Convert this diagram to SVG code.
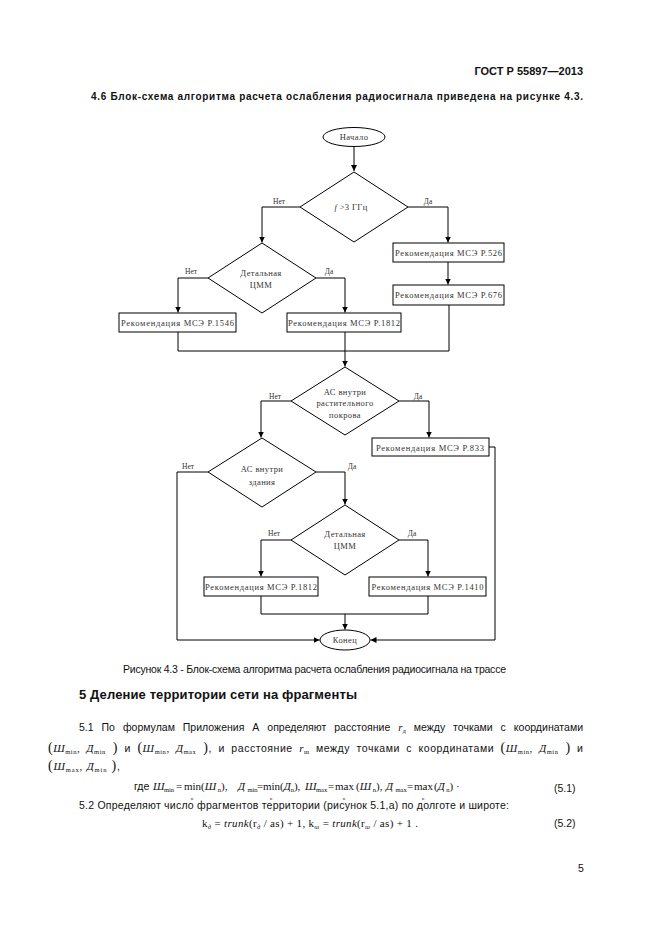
<svg xmlns="http://www.w3.org/2000/svg" width="661" height="936" viewBox="0 0 661 936">
<style>
.ln{fill:none;stroke:#000;stroke-width:1}
.nd{fill:#fff;stroke:#000;stroke-width:1}
.ft{font-family:"Liberation Serif","DejaVu Serif",serif;font-size:8.5px;fill:#333;text-anchor:middle}
.dt{font-family:"Liberation Serif","DejaVu Serif",serif;font-size:8.5px;fill:#333;text-anchor:middle;letter-spacing:0.4px}
.lb{font-family:"Liberation Serif","DejaVu Serif",serif;font-size:7.5px;fill:#333;text-anchor:middle}
.b{font-family:"Liberation Sans",Arial,sans-serif;font-size:10.5px;fill:#111}
.bb{font-family:"Liberation Sans",Arial,sans-serif;font-weight:bold;fill:#111}
.m{font-family:"Liberation Serif","DejaVu Serif",serif;font-size:11px;fill:#111}
.i{font-style:italic}
.sb{font-size:6.5px}
.un{font-family:"Liberation Serif","DejaVu Serif",serif;font-size:5px;fill:#111;text-anchor:middle}
.pr{font-size:14px}
</style>
<defs>
<marker id="ar" viewBox="0 0 8 8" refX="8" refY="4" markerWidth="6" markerHeight="6" markerUnits="userSpaceOnUse" orient="auto">
<path d="M0,0 L8,4 L0,8 z" fill="#000"/>
</marker>
</defs>
<rect width="661" height="936" fill="#fff"/>

<text class="bb" x="583" y="75" font-size="11" text-anchor="end">ГОСТ Р 55897—2013</text>
<text class="bb" x="91" y="100" font-size="10" textLength="492" lengthAdjust="spacing">4.6 Блок-схема алгоритма расчета ослабления радиосигнала приведена на рисунке 4.3.</text>

<g id="connectors">
<path class="ln" d="M354,146.5 V171" marker-end="url(#ar)"/>
<path class="ln" d="M300,207 H262 V242.5" marker-end="url(#ar)"/>
<path class="ln" d="M408,207 H448 V242.5" marker-end="url(#ar)"/>
<path class="ln" d="M448,262 V284.5" marker-end="url(#ar)"/>
<path class="ln" d="M208,278 H178 V312.5" marker-end="url(#ar)"/>
<path class="ln" d="M316,278 H345 V312.5" marker-end="url(#ar)"/>
<path class="ln" d="M178,332 V351 H449 V305"/>
<path class="ln" d="M345,332 V366.5" marker-end="url(#ar)"/>
<path class="ln" d="M291,401 H261 V437.5" marker-end="url(#ar)"/>
<path class="ln" d="M399,401 H429 V437.5" marker-end="url(#ar)"/>
<path class="ln" d="M489,447 H495 V640 H370.5" marker-end="url(#ar)"/>
<path class="ln" d="M208,472 H177 V640 H319.5" marker-end="url(#ar)"/>
<path class="ln" d="M316,472 H345 V504.5" marker-end="url(#ar)"/>
<path class="ln" d="M291,540 H261 V576.5" marker-end="url(#ar)"/>
<path class="ln" d="M399,540 H428 V576.5" marker-end="url(#ar)"/>
<path class="ln" d="M261,596 V614 H428 V596"/>
<path class="ln" d="M345,614 V629.5" marker-end="url(#ar)"/>
</g>

<g id="start">
<ellipse class="nd" cx="354" cy="137" rx="31" ry="9.5"/>
<text class="dt" x="354" y="140">Начало</text>
</g>
<g id="d1">
<polygon class="nd" points="354,172 408,207 354,242 300,207"/>
<text class="dt" x="351" y="210"><tspan font-style="italic">f</tspan> &gt;3 ГГц</text>
<text class="lb" x="279" y="204">Нет</text>
<text class="lb" x="428" y="204">Да</text>
</g>
<g id="p526">
<rect class="nd" x="393" y="243" width="111" height="19"/>
<text class="ft" x="448.5" y="256" textLength="107" lengthAdjust="spacing">Рекомендация МСЭ Р.526</text>
</g>
<g id="p676">
<rect class="nd" x="393" y="285" width="111" height="20"/>
<text class="ft" x="448.5" y="298" textLength="107" lengthAdjust="spacing">Рекомендация МСЭ Р.676</text>
</g>
<g id="d2">
<polygon class="nd" points="262,243 316,278 262,313 208,278"/>
<text class="dt" x="261" y="276">Детальная</text>
<text class="dt" x="261" y="288">ЦММ</text>
<text class="lb" x="191" y="274">Нет</text>
<text class="lb" x="329" y="274">Да</text>
</g>
<g id="p1546">
<rect class="nd" x="119" y="313" width="117" height="19"/>
<text class="ft" x="177.5" y="326" textLength="113" lengthAdjust="spacing">Рекомендация МСЭ Р.1546</text>
</g>
<g id="p1812a">
<rect class="nd" x="287" y="313" width="114" height="19"/>
<text class="ft" x="344" y="326" textLength="112" lengthAdjust="spacing">Рекомендация МСЭ Р.1812</text>
</g>
<g id="d3">
<polygon class="nd" points="345,367 399,401 345,435 291,401"/>
<text class="dt" x="345" y="395">АС внутри</text>
<text class="dt" x="345" y="406">растительного</text>
<text class="dt" x="345" y="418">покрова</text>
<text class="lb" x="275" y="399">Нет</text>
<text class="lb" x="418" y="399">Да</text>
</g>
<g id="p833">
<rect class="nd" x="372" y="438" width="117" height="18"/>
<text class="ft" x="430" y="451" textLength="108" lengthAdjust="spacing">Рекомендация МСЭ Р.833</text>
</g>
<g id="d4">
<polygon class="nd" points="262,438 316,472 262,507 208,472"/>
<text class="dt" x="262" y="472">АС внутри</text>
<text class="dt" x="262" y="485">здания</text>
<text class="lb" x="188" y="469">Нет</text>
<text class="lb" x="352" y="469">Да</text>
</g>
<g id="d5">
<polygon class="nd" points="345,505 399,540 345,575 291,540"/>
<text class="dt" x="345" y="537">Детальная</text>
<text class="dt" x="345" y="549">ЦММ</text>
<text class="lb" x="274" y="536">Нет</text>
<text class="lb" x="412" y="536">Да</text>
</g>
<g id="p1812b">
<rect class="nd" x="204" y="577" width="114" height="19"/>
<text class="ft" x="261" y="590" textLength="112" lengthAdjust="spacing">Рекомендация МСЭ Р.1812</text>
</g>
<g id="p1410">
<rect class="nd" x="369" y="577" width="117" height="19"/>
<text class="ft" x="427.5" y="590" textLength="112" lengthAdjust="spacing">Рекомендация МСЭ Р.1410</text>
</g>
<g id="end">
<ellipse class="nd" cx="345" cy="640" rx="25" ry="10"/>
<text class="dt" x="345" y="643">Конец</text>
</g>

<text class="b" x="123" y="673" font-size="9" textLength="383" lengthAdjust="spacing">Рисунок 4.3 - Блок-схема алгоритма расчета ослабления радиосигнала на трассе</text>
<text class="bb" x="79" y="699" font-size="13" textLength="278" lengthAdjust="spacing">5 Деление территории сети на фрагменты</text>

<text class="b" x="79" y="731" word-spacing="5" textLength="504" lengthAdjust="spacing">5.1 По формулам Приложения А определяют расстояние <tspan class="m i">r</tspan><tspan class="m sb" dy="2">д</tspan><tspan dy="-2"> между точками с координатами</tspan></text>

<text class="b" x="48" y="752" word-spacing="3" textLength="535" lengthAdjust="spacing"><tspan class="m pr">(</tspan><tspan class="m i">Ш</tspan><tspan class="m sb" dy="2">min</tspan><tspan class="m" dy="-2">, </tspan><tspan class="m i">Д</tspan><tspan class="m sb" dy="2">min</tspan><tspan class="m pr" dy="-2"> )</tspan> и <tspan class="m pr">(</tspan><tspan class="m i">Ш</tspan><tspan class="m sb" dy="2">min</tspan><tspan class="m" dy="-2">, </tspan><tspan class="m i">Д</tspan><tspan class="m sb" dy="2">max</tspan><tspan class="m pr" dy="-2"> )</tspan>, и расстояние <tspan class="m i">r</tspan><tspan class="m sb" dy="2">ш</tspan><tspan dy="-2"> между точками с координатами </tspan><tspan class="m pr">(</tspan><tspan class="m i">Ш</tspan><tspan class="m sb" dy="2">min</tspan><tspan class="m" dy="-2">, </tspan><tspan class="m i">Д</tspan><tspan class="m sb" dy="2">min</tspan><tspan class="m pr" dy="-2"> )</tspan> и</text>

<text class="b" x="48" y="770" textLength="72" lengthAdjust="spacing"><tspan class="m pr">(</tspan><tspan class="m i">Ш</tspan><tspan class="m sb" dy="2">max</tspan><tspan class="m" dy="-2">, </tspan><tspan class="m i">Д</tspan><tspan class="m sb" dy="2">min</tspan><tspan class="m pr" dy="-2"> )</tspan>,</text>

<g id="eq51">
<text class="b" x="134" y="790">где</text>
<text class="m i" x="153" y="790">Ш</text><text class="m sb" x="164" y="792">min</text><text class="m" x="176" y="790">=</text>
<text class="m" x="184" y="790">min</text><text class="un" x="192" y="799.5">n</text>
<text class="m" x="201" y="790">(<tspan class="i">Ш</tspan><tspan class="sb" dy="2"> n</tspan><tspan dy="-2">),</tspan></text>
<text class="m i" x="238" y="790">Д</text><text class="m sb" x="247.5" y="792">min</text><text class="m" x="257" y="790">=</text>
<text class="m" x="263" y="790">min</text><text class="un" x="271" y="799.5">n</text>
<text class="m" x="280" y="790">(<tspan class="i">Д</tspan><tspan class="sb" dy="2">n</tspan><tspan dy="-2">),</tspan></text>
<text class="m i" x="305" y="790">Ш</text><text class="m sb" x="316" y="792">max</text><text class="m" x="328" y="790">=</text>
<text class="m" x="335" y="790">max</text><text class="un" x="344" y="799.5">n</text>
<text class="m" x="356" y="790">(<tspan class="i">Ш</tspan><tspan class="sb" dy="2"> n</tspan><tspan dy="-2">),</tspan></text>
<text class="m i" x="386" y="790">Д</text><text class="m sb" x="395.5" y="792">max</text><text class="m" x="407" y="790">=</text>
<text class="m" x="414" y="790">max</text><text class="un" x="423" y="799.5">n</text>
<text class="m" x="434" y="790">(<tspan class="i">Д</tspan><tspan class="sb" dy="2"> n</tspan><tspan dy="-2">) ·</tspan></text>
<text class="b" x="554" y="792">(5.1)</text>
</g>

<text class="b" x="79" y="809" textLength="430" lengthAdjust="spacing">5.2 Определяют число фрагментов территории (рисунок 5.1,а) по долготе и широте:</text>

<g id="eq52">
<text class="m" x="202" y="827" textLength="216" lengthAdjust="spacing">k<tspan class="sb i" dy="2">д</tspan><tspan dy="-2"> = </tspan><tspan class="i">trunk</tspan>(r<tspan class="sb i" dy="2">д</tspan><tspan dy="-2"> / as) + 1,  k</tspan><tspan class="sb i" dy="2">ш</tspan><tspan dy="-2"> = </tspan><tspan class="i">trunk</tspan>(r<tspan class="sb i" dy="2">ш</tspan><tspan dy="-2"> / as) + 1 .</tspan></text>
<text class="b" x="554" y="827">(5.2)</text>
</g>

<text class="b" x="578" y="872">5</text>
</svg>
